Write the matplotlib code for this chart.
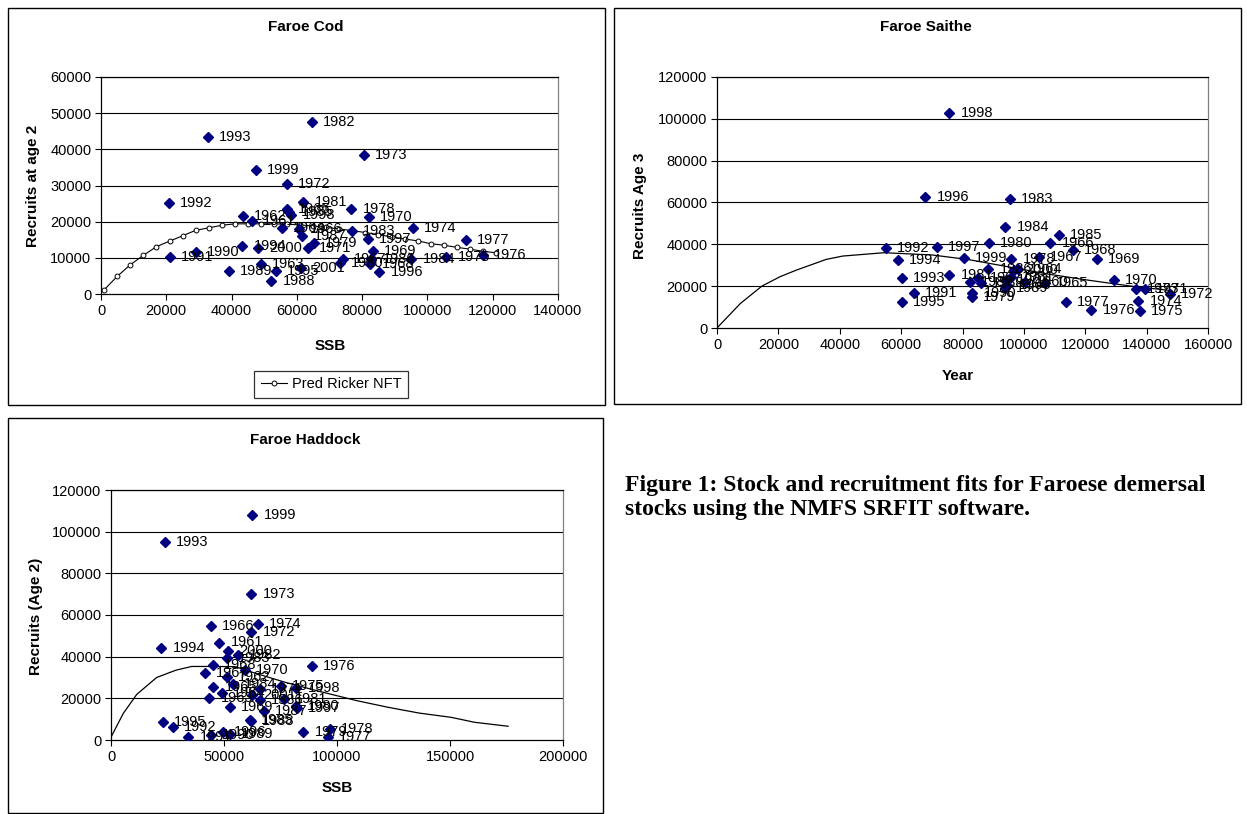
import matplotlib
matplotlib.use("Agg")
import matplotlib.pyplot as plt
from matplotlib.patches import Rectangle
from matplotlib.lines import Line2D

plt.rcParams['font.family'] = ['Liberation Sans', 'DejaVu Sans']

# ---------------- data (thousands) ----------------
cod_years = [1993, 1982, 1973, 1999, 1972, 1992, 1981, 1978, 1962, 1970, 1961, 1965, 1985, 1998,
             1964, 1966, 1987, 1983, 1974, 1997, 1977, 1994, 2000, 1979, 1971, 1990, 1991, 1969,
             1967, 1980, 1986, 1968, 1984, 1975, 1976, 1996, 1963, 1989, 1995, 2001, 1988]
cod_ssb = [32.8, 64.7, 80.6, 47.5, 57.0, 20.8, 62.0, 76.7, 43.5, 82.1, 46.2, 57.0, 57.7, 58.3,
           55.4, 60.7, 61.7, 76.9, 95.6, 81.7, 111.8, 43.3, 48.2, 65.3, 63.3, 29.1, 21.0, 83.4,
           74.0, 73.2, 82.8, 82.5, 95.1, 105.8, 117.0, 85.3, 49.0, 39.1, 53.6, 61.4, 52.2]
cod_rec = [43.3, 47.6, 38.3, 34.3, 30.3, 25.2, 25.3, 23.5, 21.7, 21.2, 20.2, 23.6, 22.7, 21.9,
           18.3, 17.9, 15.9, 17.4, 18.3, 15.1, 14.8, 13.3, 12.7, 14.0, 12.6, 11.7, 10.1, 12.0,
           9.6, 8.5, 9.6, 8.3, 9.6, 10.2, 10.9, 6.1, 8.3, 6.4, 6.4, 7.1, 3.6]
cod_fit_ssb = [1, 5, 9, 13, 17, 21, 25, 29, 33, 37, 41, 45, 49, 53, 57, 61, 65, 69, 73, 77,
               81, 85, 89, 93, 97, 101, 105, 109, 113, 117, 121]
cod_fit_rec = [1.2, 4.9, 8.1, 10.7, 13.1, 14.6, 16.1, 17.6, 18.3, 19.0, 19.4, 19.4, 19.4, 19.4,
               19.3, 19.1, 18.8, 18.4, 18.0, 17.5, 17.0, 16.4, 15.8, 15.2, 14.7, 13.9, 13.5,
               12.9, 12.4, 11.8, 11.4]

sai_years = [1998, 1996, 1983, 1984, 1985, 1966, 1980, 1997, 1992, 1968, 1994, 1999, 1978, 1967,
             1969, 1993, 1981, 1970, 1991, 1995, 1990, 1979, 1977, 1976, 1975, 1974, 1972, 1973,
             1971, 1982, 1987, 1988, 1986, 1989, 1962, 1963, 1961, 2000, 1964, 1960, 1965]
sai_ssb = [75.7, 67.9, 95.5, 94.0, 111.3, 108.6, 88.5, 71.7, 55.1, 115.9, 59.0, 80.4, 95.9, 104.8,
           123.7, 60.2, 75.7, 129.3, 64.1, 60.2, 83.2, 83.0, 113.8, 122.0, 137.8, 137.3, 147.7,
           136.5, 139.5, 82.4, 85.2, 86.0, 88.4, 93.8, 94.1, 94.6, 95.7, 96.8, 98.2, 100.3, 106.8]
sai_rec = [102.9, 62.7, 61.6, 48.2, 44.5, 40.7, 40.8, 38.8, 38.1, 37.2, 32.4, 33.7, 33.2, 33.8,
           33.2, 23.8, 25.5, 23.1, 16.9, 12.4, 16.5, 14.6, 12.4, 8.6, 8.0, 13.1, 16.3,
           18.7, 18.7, 22.1, 23.7, 21.3, 28.0, 18.9, 22.9, 20.5, 24.5, 27.7, 28.0, 22.1, 21.6]
sai_fit_ssb = [0, 7.6, 14.6, 20.5, 25.9, 35.6, 41.0, 54.5, 70.2, 82.0, 95.1, 108.2, 121.3, 137.0, 147.5]
sai_fit_rec = [0, 11.7, 20.0, 24.5, 27.7, 32.8, 34.4, 36.0, 34.9, 32.7, 29.2, 25.7, 22.8, 19.6, 18.0]

had_years = [1999, 1993, 1973, 1966, 1974, 1972, 1994, 1961, 2000, 1983, 1982, 1968, 1976, 1967,
             1970, 1962, 1965, 1964, 1963, 1984, 1971, 1975, 1998, 1981, 1986, 2001, 1969, 1980,
             1997, 1987, 1985, 1988, 1995, 1992, 1991, 1990, 1996, 1989, 1979, 1978, 1977]
had_ssb = [62.6, 23.8, 62.1, 44.2, 65.0, 62.1, 22.3, 48.0, 51.9, 51.2, 56.3, 45.0, 88.8, 41.6,
           59.3, 51.2, 45.3, 49.0, 43.5, 53.9, 66.0, 75.3, 82.0, 76.5, 66.0, 62.3, 52.7, 81.9,
           82.2, 67.8, 61.5, 61.9, 23.1, 27.5, 34.2, 44.3, 49.6, 52.5, 85.1, 96.9, 96.1]
had_rec = [107.9, 95.2, 70.0, 54.5, 55.6, 51.9, 44.3, 46.8, 42.5, 39.5, 40.8, 35.9, 35.4, 32.2,
           33.5, 30.2, 25.4, 22.7, 20.3, 26.8, 24.5, 26.0, 24.8, 19.7, 19.0, 21.4, 15.7, 16.1,
           15.2, 14.1, 9.7, 9.0, 8.8, 6.1, 1.5, 2.6, 4.0, 2.9, 3.7, 5.3, 1.6]
had_fit_ssb = [0.3, 5.4, 11.4, 20.2, 28.7, 35.7, 46.1, 55.0, 65.2, 77.4, 91.3, 108.7, 122.6,
               136.5, 150.4, 160.9, 175.7]
had_fit_rec = [2.0, 12.7, 21.9, 30.0, 33.5, 35.3, 35.3, 35.2, 31.6, 27.6, 23.6, 18.9, 15.7,
               12.9, 10.9, 8.5, 6.6]

W, H = 1247, 814
fig = plt.figure(figsize=(W / 100, H / 100), dpi=100)
fig.patch.set_facecolor('white')

NAVY = '#000080'


def ax_px(l, t, r, b):
    return fig.add_axes([l / W, 1 - b / H, (r - l) / W, (b - t) / H])


def fig_text(x, y, s, **kw):
    fig.text(x / W, 1 - y / H, s, **kw)


def box(l, t, r, b):
    fig.patches.append(Rectangle((l / W, 1 - b / H), (r - l) / W, (b - t) / H,
                                 transform=fig.transFigure, fill=False,
                                 edgecolor='black', linewidth=1.0))


def style(ax, xmax, xstep, ymax, ystep):
    ax.set_xlim(0, xmax)
    ax.set_ylim(0, ymax)
    xt = list(range(0, xmax + 1, xstep))
    yt = list(range(0, ymax + 1, ystep))
    ax.set_xticks(xt)
    ax.set_yticks(yt)
    ax.set_xticklabels([str(v) for v in xt])
    ax.set_yticklabels([str(v) for v in yt])
    ax.tick_params(direction='out', length=4, width=0.8, labelsize=10.5, pad=3)
    for y in yt[1:]:
        ax.axhline(y, color='black', lw=0.8, zorder=1)
    ax.spines['left'].set_color('black')
    ax.spines['bottom'].set_color('black')
    ax.spines['top'].set_color('black')
    ax.spines['right'].set_color('#808080')
    for s in ax.spines.values():
        s.set_linewidth(0.9)
    ax.set_facecolor('white')


def points(ax, xs, ys, years):
    ax.plot(xs, ys, linestyle='none', marker='D', markersize=5.5, color=NAVY, zorder=3)
    for x, y, yr in zip(xs, ys, years):
        ax.annotate(str(yr), (x, y), xytext=(8, 0), textcoords='offset points',
                    ha='left', va='center', fontsize=10.5, zorder=4, annotation_clip=False)


# ---------------- Cod ----------------
box(8, 8, 605, 405)
ax1 = ax_px(101, 77, 558, 294)
style(ax1, 140000, 20000, 60000, 10000)
ax1.plot([v * 1000 for v in cod_fit_ssb], [v * 1000 for v in cod_fit_rec], color='black', lw=0.8,
         marker='o', markersize=3.5, markerfacecolor='white', markeredgecolor='black',
         markeredgewidth=0.7, zorder=2)
points(ax1, [v * 1000 for v in cod_ssb], [v * 1000 for v in cod_rec], cod_years)
fig_text(306, 27, 'Faroe Cod', ha='center', va='center', fontsize=11, fontweight='bold')
fig_text(330, 346, 'SSB', ha='center', va='center', fontsize=11, fontweight='bold')
fig_text(33, 186, 'Recruits at age 2', ha='center', va='center', fontsize=11,
         fontweight='bold', rotation=90)
leg_handle = Line2D([], [], color='black', lw=0.8, marker='o', markersize=3.5,
                    markerfacecolor='white', markeredgecolor='black', markeredgewidth=0.7)
leg = fig.legend([leg_handle], ['Pred Ricker NFT'], loc='center',
                 bbox_to_anchor=(331 / W, 1 - 384.5 / H), fontsize=10.5, frameon=True,
                 fancybox=False, edgecolor='black', handlelength=1.8, borderpad=0.45,
                 handletextpad=0.3, borderaxespad=0.0)
leg.get_frame().set_linewidth(0.9)

# ---------------- Saithe ----------------
box(614, 8, 1241, 404)
ax2 = ax_px(717, 77, 1208, 328)
style(ax2, 160000, 20000, 120000, 20000)
ax2.plot([v * 1000 for v in sai_fit_ssb], [v * 1000 for v in sai_fit_rec], color='black', lw=0.9, zorder=2)
points(ax2, [v * 1000 for v in sai_ssb], [v * 1000 for v in sai_rec], sai_years)
fig_text(926, 27, 'Faroe Saithe', ha='center', va='center', fontsize=11, fontweight='bold')
fig_text(958, 376, 'Year', ha='center', va='center', fontsize=11, fontweight='bold')
fig_text(640, 206, 'Recruits Age 3', ha='center', va='center', fontsize=11,
         fontweight='bold', rotation=90)

# ---------------- Haddock ----------------
box(8, 418, 603, 813)
ax3 = ax_px(111, 490, 563, 740)
style(ax3, 200000, 50000, 120000, 20000)
ax3.plot([v * 1000 for v in had_fit_ssb], [v * 1000 for v in had_fit_rec], color='black', lw=0.9, zorder=2)
points(ax3, [v * 1000 for v in had_ssb], [v * 1000 for v in had_rec], had_years)
fig_text(305, 440, 'Faroe Haddock', ha='center', va='center', fontsize=11, fontweight='bold')
fig_text(337, 788, 'SSB', ha='center', va='center', fontsize=11, fontweight='bold')
fig_text(36, 616, 'Recruits (Age 2)', ha='center', va='center', fontsize=11,
         fontweight='bold', rotation=90)

# ---------------- Caption ----------------
cap_kw = dict(ha='left', va='center', fontsize=17, fontweight='bold',
              family=['Liberation Serif', 'DejaVu Serif'])
fig_text(625, 486, 'Figure 1: Stock and recruitment fits for Faroese demersal', **cap_kw)
fig_text(625, 510, 'stocks using the NMFS SRFIT software.', **cap_kw)

fig.savefig('out.png', dpi=100, facecolor='white')
